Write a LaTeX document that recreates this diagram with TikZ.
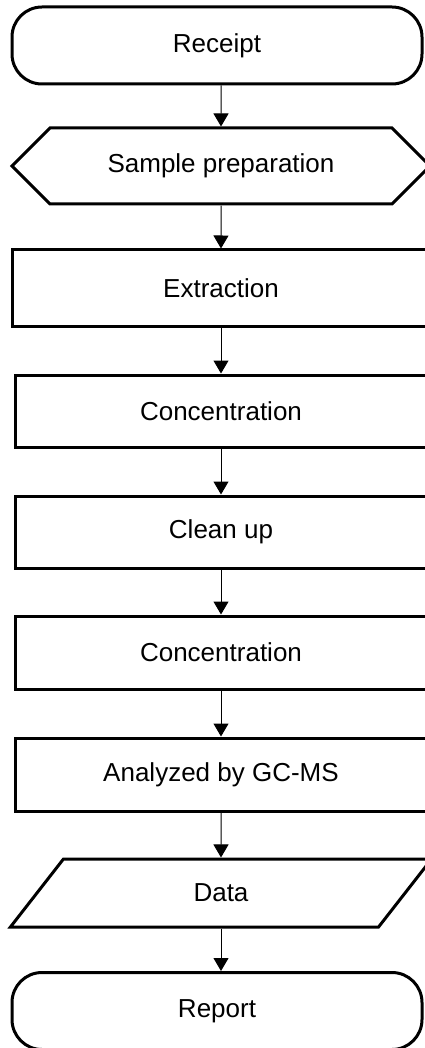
\documentclass[tikz,border=0pt]{standalone}
\usepackage{fontspec}
\setmainfont{Liberation Sans}
\usetikzlibrary{arrows.meta}
\usetikzlibrary{shapes.geometric,shapes.symbols}

\begin{document}
\begin{tikzpicture}[x=1pt, y=-1pt,
  font=\fontsize{26}{30}\selectfont,
  box/.style={draw, line width=3pt, inner sep=0pt},
  term/.style={box, rounded corners=30pt, minimum width=410pt, minimum height=77pt},
  proc/.style={box, minimum width=412pt},
  prepbox/.style={box, shape=signal, signal to=west and east, signal pointer angle=90, minimum width=418pt, minimum height=76pt},
  iobox/.style={box, trapezium, trapezium left angle=63, trapezium right angle=117, trapezium stretches=true, minimum width=422pt, minimum height=68pt},
  flow/.style={line width=1pt, -{Triangle[width=15pt,length=13pt]}}]
\useasboundingbox (0,0) rectangle (424,1048);
\node[term] (receipt) at (217,45.5) {Receipt};
\node[prepbox] (prep) at (221,166) {Sample preparation};
\foreach \name/\y/\w/\h/\txt in {extract/288/418/76/Extraction, conc1/411/412/72/Concentration,
  clean/532/412/72/Clean up, conc2/652.5/412/73/Concentration, gcms/774.5/412/73/Analyzed by GC-MS}
 \node[proc, minimum width=\w pt, minimum height=\h pt] (\name) at (221,\y) {\txt};
\node[iobox] (data) at (221,893) {Data};
\node[term] (report) at (217,1011) {Report};
% connectors
\draw[flow] (receipt.south -| prep) -- (prep);
\foreach \a/\b in {prep/extract, extract/conc1, conc1/clean, clean/conc2, conc2/gcms, gcms/data}
 \draw[flow] (\a) -- (\b);
\draw[flow] (data) -- (data |- report.north);
\end{tikzpicture}
\end{document}
